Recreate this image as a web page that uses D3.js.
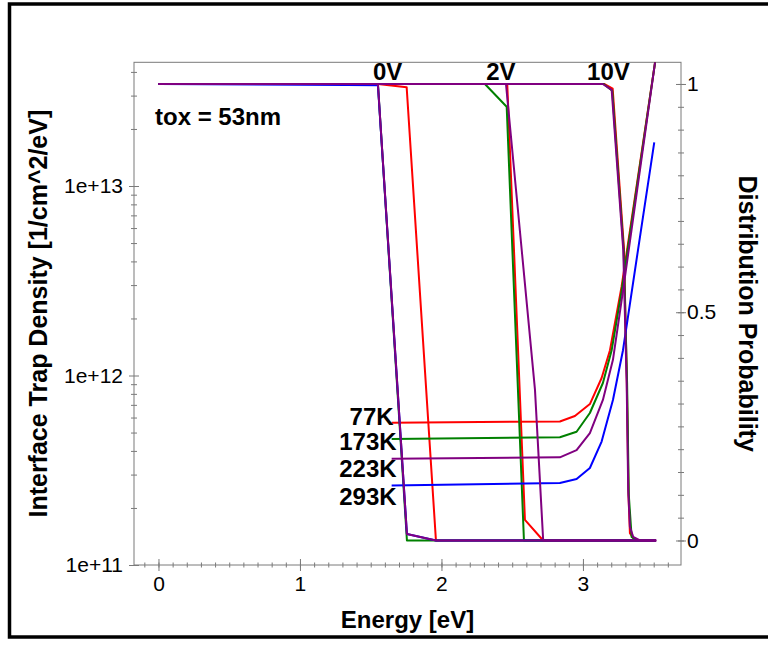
<!DOCTYPE html>
<html>
<head>
<meta charset="utf-8">
<script src="https://cdn.jsdelivr.net/npm/d3@7/dist/d3.min.js"></script>
<style>
  html, body { margin: 0; padding: 0; background: #fff; }
  svg { display: block; font-family: "Liberation Sans", Arial, Helvetica, sans-serif; }
</style>
</head>
<body>
<svg id="chart" width="768" height="646"></svg>
<script>
// ---- Interface trap density [1/cm^2/eV] vs energy [eV], one curve per temperature ----
const dit77K  = [[1.648, 5.64e11], [2.837, 5.72e11], [2.943, 6.11e11], [3.049, 7.07e11], [3.132, 9.7e11], [3.191, 1.36e12], [3.273, 2.94e12], [3.51, 4.5e13]];
const dit173K = [[1.648, 4.62e11], [2.837, 4.72e11], [2.955, 5.05e11], [3.049, 6.34e11], [3.141, 9.13e11], [3.203, 1.36e12], [3.273, 2.78e12], [3.51, 4.5e13]];
const dit223K = [[1.648, 3.64e11], [2.837, 3.70e11], [2.955, 4.04e11], [3.049, 4.97e11], [3.141, 7.43e11], [3.212, 1.21e12], [3.283, 2.8e12], [3.51, 4.5e13]];
const dit293K = [[1.648, 2.63e11], [2.837, 2.71e11], [2.955, 2.84e11], [3.049, 3.25e11], [3.132, 4.48e11], [3.212, 7.43e11], [3.283, 1.36e12], [3.389, 4.59e12], [3.504, 1.7e13]];

// ---- Occupation (distribution probability) vs energy for gate biases 0V, 2V, 10V ----
const dist0V77K   = [[0, 1], [1.551, 1], [1.754, 0.993], [1.961, 0], [3.516, 0]];
const dist0V173K  = [[0, 1], [1.551, 1], [1.756, 0], [3.516, 0]];
const dist0V293K  = [[0, 1], [1.33, 0.998], [1.551, 0.997], [1.756, 0.014], [1.961, 0], [3.516, 0]];
const dist0V223K  = [[0, 1], [1.551, 1], [1.756, 0.014], [1.961, 0], [3.516, 0]];

const dist2V77K   = [[0, 1], [2.465, 1], [2.590, 0.045], [2.719, 0], [3.516, 0]];
const dist2V173K  = [[0, 1], [2.307, 1], [2.461, 0.95], [2.583, 0], [3.516, 0]];
const dist2V223K  = [[0, 1], [2.456, 1], [2.661, 0.33], [2.719, 0], [3.516, 0]];

const dist10V77K  = [[0, 1], [3.15, 1], [3.21, 0.99], [3.29, 0.64], [3.31, 0.35], [3.322, 0.1], [3.332, 0.016], [3.367, 0], [3.516, 0]];
const dist10V173K = [[0, 1], [3.146, 1], [3.207, 0.985], [3.288, 0.635], [3.312, 0.345], [3.324, 0.1], [3.344, 0.008], [3.38, 0], [3.516, 0]];
const dist10V223K = [[0, 1], [3.14, 1], [3.203, 0.987], [3.285, 0.636], [3.309, 0.345], [3.320, 0.11], [3.332, 0.03], [3.355, 0.008], [3.403, 0], [3.521, 0]];

// ---- Axis ticks and annotations ----
const energyTicks   = [0, 1, 2, 3];
const densityTicks  = [1e11, 1e12, 1e13];
const densityLabels = ["1e+11", "1e+12", "1e+13"];
const probTicks     = [0, 0.5, 1];
const probLabels    = ["0", "0.5", "1"];
const biasLabels    = [{ text: "0V", e: 1.62 }, { text: "2V", e: 2.42 }, { text: "10V", e: 3.18 }];
const tempLabels    = ["77K", "173K", "223K", "293K"];
const tempLevels    = [5.64e11, 4.62e11, 3.64e11, 2.63e11];

const colors = { "77K": "#ff0000", "173K": "#008000", "223K": "#800080", "293K": "#0000ff" };

// ---- Layout ----
const svg = d3.select("#chart");
const box = { left: 134, right: 681, top: 62.3, bottom: 565 };

const x  = d3.scaleLinear().domain([-0.173, 3.693]).range([box.left, box.right]);
const yL = d3.scaleLog().domain([1e11, 4.496e13]).range([box.bottom, box.top]);
const yR = d3.scaleLinear().domain([-0.0537, 1.0475]).range([box.bottom, box.top]);

// outer frame of the figure
svg.append("rect")
  .attr("x", 9.5).attr("y", 4).attr("width", 800).attr("height", 633)
  .attr("fill", "none").attr("stroke", "#000").attr("stroke-width", 3.5);

svg.append("defs").append("clipPath").attr("id", "plotClip")
  .append("rect")
  .attr("x", box.left).attr("y", box.top)
  .attr("width", box.right - box.left).attr("height", box.bottom - box.top);

const axisColor = "#7a7a7a";
const tickFont = 21;

function styleAxis(g) {
  g.select(".domain").remove();
  g.selectAll(".tick line").attr("stroke", axisColor).attr("stroke-width", 1);
  g.selectAll(".tick text")
    .attr("fill", "#000")
    .style("font-size", tickFont + "px")
    .style("font-family", "\"Liberation Sans\", Arial, Helvetica, sans-serif");
}

// bottom axis: energy
svg.append("g").attr("transform", `translate(0,${box.bottom})`)
  .call(d3.axisBottom(x).tickValues(d3.range(-1, 37).map(i => i / 10)).tickSize(2.5).tickFormat(""))
  .call(styleAxis)
  .call(g => g.selectAll(".tick line").attr("y1", -2.5));
svg.append("g").attr("transform", `translate(0,${box.bottom})`)
  .call(d3.axisBottom(x).tickValues(energyTicks).tickSize(6).tickPadding(5).tickFormat(d3.format("d")))
  .call(styleAxis)
  .call(g => g.selectAll(".tick line").attr("y1", -6));

// left axis: trap density (log)
const densityMinor = [];
[1e11, 1e12, 1e13].forEach(dec => d3.range(2, 10).forEach(m => { if (m * dec < 4.49e13) densityMinor.push(m * dec); }));
svg.append("g").attr("transform", `translate(${box.left},0)`)
  .call(d3.axisLeft(yL).tickValues(densityMinor).tickSize(3).tickFormat(""))
  .call(styleAxis)
  .call(g => g.selectAll(".tick line").attr("x1", 3));
svg.append("g").attr("transform", `translate(${box.left},0)`)
  .call(d3.axisLeft(yL).tickValues(densityTicks).tickSize(5).tickPadding(6)
    .tickFormat((d, i) => densityLabels[i]))
  .call(styleAxis)
  .call(g => g.selectAll(".tick line").attr("x1", 5));

// right axis: distribution probability
svg.append("g").attr("transform", `translate(${box.right},0)`)
  .call(d3.axisRight(yR).tickValues(d3.range(0, 21).map(i => i / 20)).tickSize(3).tickFormat(""))
  .call(styleAxis)
  .call(g => g.selectAll(".tick line").attr("x1", -3));
svg.append("g").attr("transform", `translate(${box.right},0)`)
  .call(d3.axisRight(yR).tickValues(probTicks).tickSize(5).tickPadding(1)
    .tickFormat((d, i) => probLabels[i]))
  .call(styleAxis)
  .call(g => g.selectAll(".tick line").attr("x1", -5));

// plot box
svg.append("rect")
  .attr("x", box.left).attr("y", box.top)
  .attr("width", box.right - box.left).attr("height", box.bottom - box.top)
  .attr("fill", "none").attr("stroke", axisColor).attr("stroke-width", 1);

// curves
const plotArea = svg.append("g").attr("clip-path", "url(#plotClip)");
const ditLine  = d3.line().x(d => x(d[0])).y(d => yL(d[1]));
const distLine = d3.line().x(d => x(d[0])).y(d => yR(d[1]));

const curves = [
  { data: dist0V77K,   line: distLine, t: "77K" },
  { data: dist2V77K,   line: distLine, t: "77K" },
  { data: dist10V77K,  line: distLine, t: "77K" },
  { data: dit77K,      line: ditLine,  t: "77K" },
  { data: dist0V173K,  line: distLine, t: "173K" },
  { data: dist2V173K,  line: distLine, t: "173K" },
  { data: dist10V173K, line: distLine, t: "173K" },
  { data: dit173K,     line: ditLine,  t: "173K" },
  { data: dist0V293K,  line: distLine, t: "293K" },
  { data: dit293K,     line: ditLine,  t: "293K" },
  { data: dist0V223K,  line: distLine, t: "223K" },
  { data: dist2V223K,  line: distLine, t: "223K" },
  { data: dist10V223K, line: distLine, t: "223K" },
  { data: dit223K,     line: ditLine,  t: "223K" }
];
curves.forEach(c => {
  plotArea.append("path")
    .attr("d", c.line(c.data))
    .attr("fill", "none")
    .attr("stroke", colors[c.t])
    .attr("stroke-width", 2)
    .attr("stroke-linejoin", "round");
});

// annotations
const boldFont = "\"Liberation Sans\", Arial, Helvetica, sans-serif";
svg.append("text")
  .attr("x", 155).attr("y", 125)
  .style("font-size", "24px").style("font-weight", "bold").style("font-family", boldFont)
  .text("tox = 53nm");

svg.selectAll(".bias").data(biasLabels).enter().append("text")
  .attr("x", d => x(d.e) + (d.text === "0V" ? 0 : 0))
  .attr("y", 80)
  .attr("text-anchor", "middle")
  .style("font-size", "24px").style("font-weight", "bold").style("font-family", boldFont)
  .text(d => d.text);

svg.selectAll(".temp").data(tempLabels).enter().append("text")
  .attr("x", (d, i) => x(dit77K[0][0]) + (i === 0 ? 2 : 5))
  .attr("y", (d, i) => yL(tempLevels[i]) + [2, 11, 18, 20][i])
  .attr("text-anchor", "end")
  .style("font-size", "24px").style("font-weight", "bold").style("font-family", boldFont)
  .text(d => d);

// axis titles
svg.append("text")
  .attr("x", (box.left + box.right) / 2).attr("y", 628)
  .attr("text-anchor", "middle")
  .style("font-size", "24px").style("font-weight", "bold").style("font-family", boldFont)
  .text("Energy [eV]");

svg.append("text")
  .attr("transform", `translate(47,${(box.top + box.bottom) / 2}) rotate(-90)`)
  .attr("text-anchor", "middle")
  .style("font-size", "25px").style("font-weight", "bold").style("font-family", boldFont)
  .text("Interface Trap Density [1/cm^2/eV]");

svg.append("text")
  .attr("transform", `translate(739,${(box.top + box.bottom) / 2}) rotate(90)`)
  .attr("text-anchor", "middle")
  .style("font-size", "25px").style("font-weight", "bold").style("font-family", boldFont)
  .text("Distribution Probability");
</script>
</body>
</html>
